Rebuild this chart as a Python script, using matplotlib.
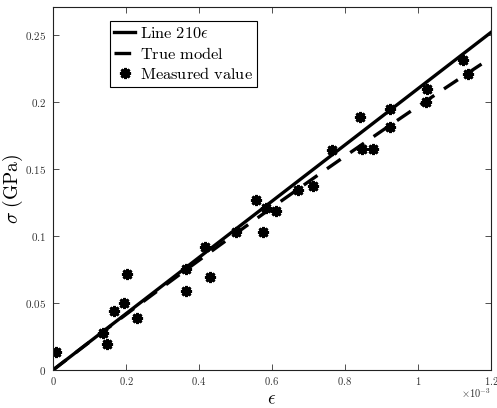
import numpy as np
import matplotlib
matplotlib.use("Agg")
import matplotlib.pyplot as plt
from matplotlib.ticker import FixedLocator, FuncFormatter

plt.rcParams['mathtext.fontset'] = 'cm'
plt.rcParams['font.family'] = ['DejaVu Serif']

# strain values in units of 1e-3
strain = [0.008, 0.136, 0.149, 0.168, 0.195, 0.203, 0.230, 0.365, 0.365, 0.417,
          0.430, 0.500, 0.555, 0.575, 0.583, 0.611, 0.671, 0.712, 0.763, 0.841,
          0.847, 0.877, 0.923, 0.923, 1.021, 1.025, 1.123, 1.136]
stress = [0.0132, 0.0274, 0.0192, 0.044, 0.0502, 0.0716, 0.0385, 0.0754, 0.0592, 0.0915,
          0.0697, 0.103, 0.127, 0.103, 0.121, 0.119, 0.134, 0.137, 0.164, 0.189,
          0.165, 0.165, 0.195, 0.181, 0.200, 0.210, 0.231, 0.221]

E_line = 210.0          # GPa
true_quad = 13200.0     # GPa, curvature of true model
x_ticks = [0, 0.2, 0.4, 0.6, 0.8, 1.0, 1.2]
y_ticks = [0, 0.05, 0.1, 0.15, 0.2, 0.25]

fig = plt.figure(figsize=(4.97, 4.08), dpi=100)
ax = fig.add_axes([0.1066, 0.0931, 0.8814, 0.8897])

eps = np.linspace(0, 1.2, 200)
ax.plot(eps, E_line * eps * 1e-3, color='black', lw=2.4, label=r'$\mathrm{Line\ 210}\epsilon$')
ax.plot(eps, E_line * eps * 1e-3 - true_quad * (eps * 1e-3) ** 2, color='black', lw=2.4,
        dashes=(5, 3.5), label=r'$\mathrm{True\ model}$')
ax.plot(strain, stress, linestyle='none', marker=(8, 2, 0), markersize=8,
        markeredgewidth=2.0, color='black', label=r'$\mathrm{Measured\ value}$')

ax.set_xlim(0, 1.2)
ax.set_ylim(0, 0.2709)
ax.xaxis.set_major_locator(FixedLocator(x_ticks))
ax.yaxis.set_major_locator(FixedLocator(y_ticks))

def fmt(v, pos):
    s = ('%.2f' % v).rstrip('0').rstrip('.')
    return r'$%s$' % s

ax.xaxis.set_major_formatter(FuncFormatter(fmt))
ax.yaxis.set_major_formatter(FuncFormatter(fmt))
ax.tick_params(direction='in', length=4, width=0.6, top=True, right=True,
               labelsize=8, labelcolor='#333333', colors='#333333', pad=5)
ax.tick_params(axis='x', pad=3.5, labelsize=7.6)
for s in ax.spines.values():
    s.set_linewidth(0.8)
    s.set_color('#222222')

ax.set_xlabel(r'$\epsilon$', fontsize=13.5)
ax.xaxis.set_label_coords(0.5, -0.081)
ax.xaxis.label.set_va('center')
ax.set_ylabel(r'$\sigma\ \mathrm{(GPa)}$', fontsize=14)
ax.yaxis.set_label_coords(-0.064, 0.5)
ax.text(1.0, -0.064, r'$\times10^{-3}$', transform=ax.transAxes, fontsize=7.5,
        color='#333333', ha='right', va='center')

leg = ax.legend(loc='upper left', bbox_to_anchor=(0.13, 0.962), fontsize=11.8,
                frameon=True, fancybox=False, edgecolor='black', framealpha=1,
                handlelength=1.3, handletextpad=0.3, borderpad=0.25,
                labelspacing=0.22, borderaxespad=0)
leg.get_frame().set_linewidth(0.8)

fig.savefig('out.png', dpi=100)
